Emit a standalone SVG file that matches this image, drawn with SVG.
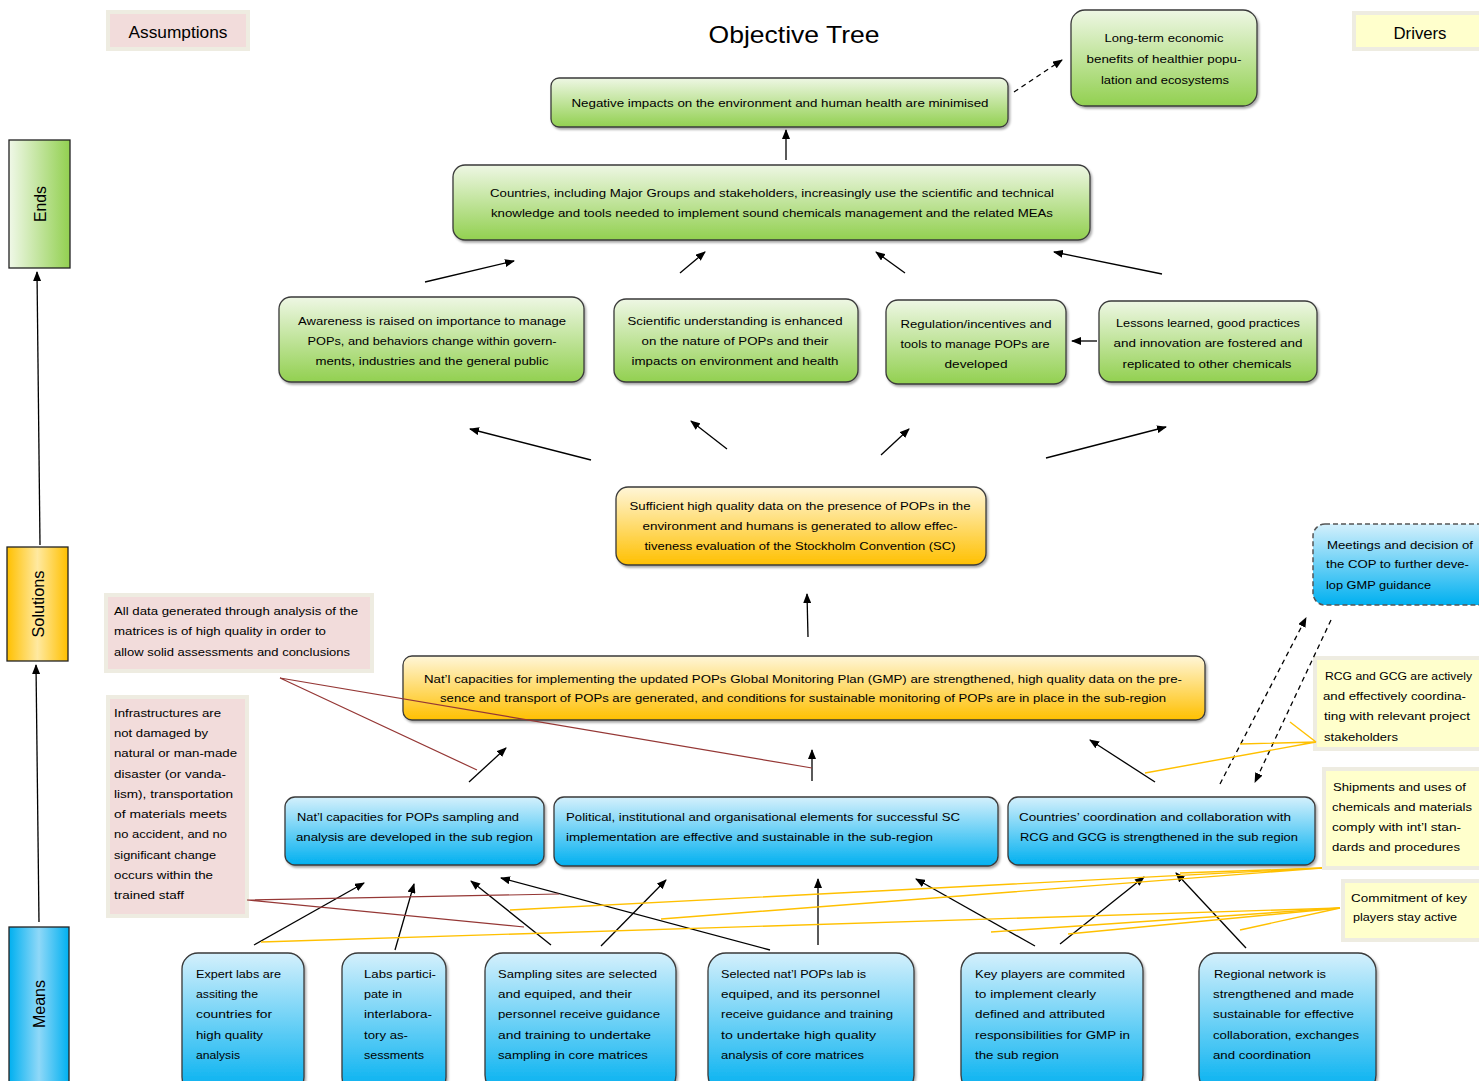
<svg xmlns="http://www.w3.org/2000/svg" width="1479" height="1081" viewBox="0 0 1479 1081">
<defs>
<linearGradient id="gGreen" x1="0" y1="0" x2="0" y2="1"><stop offset="0" stop-color="#eef7e4"/><stop offset="1" stop-color="#92d050"/></linearGradient>
<linearGradient id="gOrange" x1="0" y1="0" x2="0" y2="1"><stop offset="0" stop-color="#fff6d8"/><stop offset="1" stop-color="#ffc000"/></linearGradient>
<linearGradient id="gBlue" x1="0" y1="0" x2="0" y2="1"><stop offset="0" stop-color="#d4f0fc"/><stop offset="1" stop-color="#00b0f0"/></linearGradient>
<linearGradient id="hGreen" x1="0" y1="0" x2="1" y2="0"><stop offset="0" stop-color="#f0f8e8"/><stop offset="1" stop-color="#92d050"/></linearGradient>
<linearGradient id="hOrange" x1="0" y1="0" x2="1" y2="0"><stop offset="0" stop-color="#ffc000"/><stop offset="0.5" stop-color="#ffe9a0"/><stop offset="1" stop-color="#ffc000"/></linearGradient>
<linearGradient id="hBlue" x1="0" y1="0" x2="1" y2="0"><stop offset="0" stop-color="#00b0f0"/><stop offset="0.5" stop-color="#8fd8f8"/><stop offset="1" stop-color="#00b0f0"/></linearGradient>
<filter id="sh" x="-5%" y="-10%" width="110%" height="130%"><feDropShadow dx="1.5" dy="2" stdDeviation="1.2" flood-color="#000" flood-opacity="0.35"/></filter>
<marker id="ah" markerWidth="10" markerHeight="8" refX="9" refY="4" orient="auto" markerUnits="userSpaceOnUse"><path d="M0,0 L10,4 L0,8 Z" fill="#000"/></marker>
<style>
.t{font-family:"Liberation Sans",Arial,sans-serif;font-size:11.5px;fill:#000}
.c{text-anchor:middle}
.box{stroke:#3a3a3a;stroke-width:1.3;filter:url(#sh)}
.green{fill:url(#gGreen)}
.orange{fill:url(#gOrange)}
.blue{fill:url(#gBlue)}
.ao{fill:#eeece1}
.ai{fill:#f2dcdb}
.di{fill:#ffffcc}
.arr{stroke:#000;stroke-width:1.3;fill:none;marker-end:url(#ah)}
.dash{stroke-dasharray:5,4}
.red{stroke:#953735;stroke-width:1.2;fill:none}
.yel{stroke:#ffc000;stroke-width:1.4;fill:none}
</style>
</defs>
<rect width="1479" height="1081" fill="#fff"/>

<text class="t c" x="794" y="43" style="font-size:24px" textLength="171" lengthAdjust="spacingAndGlyphs">Objective Tree</text>

<g id="legend-assumptions"><rect class="ao" x="106" y="10" width="144" height="41"/><rect class="ai" x="110" y="14" width="136" height="33"/><text class="t c" x="178" y="38" style="font-size:16px" textLength="99" lengthAdjust="spacingAndGlyphs">Assumptions</text></g>
<g id="legend-drivers"><rect class="ao" x="1352" y="11" width="130" height="40"/><rect class="di" x="1356" y="15" width="126" height="32"/><text class="t c" x="1420" y="39" style="font-size:16px" textLength="53" lengthAdjust="spacingAndGlyphs">Drivers</text></g>

<g id="level-ends"><rect x="9" y="140" width="61" height="128" fill="url(#hGreen)" stroke="#222" stroke-width="1.3"/><text class="t c" transform="translate(46,204) rotate(-90)" style="font-size:16px" textLength="36" lengthAdjust="spacingAndGlyphs">Ends</text></g>
<g id="level-solutions"><rect x="7" y="547" width="61" height="114" fill="url(#hOrange)" stroke="#222" stroke-width="1.3"/><text class="t c" transform="translate(44,604) rotate(-90)" style="font-size:16px" textLength="67" lengthAdjust="spacingAndGlyphs">Solutions</text></g>
<g id="level-means"><rect x="9" y="927" width="60" height="160" fill="url(#hBlue)" stroke="#222" stroke-width="1.3"/><text class="t c" transform="translate(45,1004) rotate(-90)" style="font-size:16px" textLength="48" lengthAdjust="spacingAndGlyphs">Means</text></g>

<g id="n-negative"><rect class="box green" x="551" y="78" width="457" height="49" rx="8"/><text class="t c" x="780" y="107" textLength="417" lengthAdjust="spacingAndGlyphs">Negative impacts on the environment and human health are minimised</text></g>
<g id="n-longterm"><rect class="box green" x="1071" y="10" width="186" height="96" rx="14"/><text class="t c" x="1164" y="42" textLength="119" lengthAdjust="spacingAndGlyphs">Long-term economic</text><text class="t c" x="1164" y="63" textLength="155" lengthAdjust="spacingAndGlyphs">benefits of healthier popu-</text><text class="t c" x="1165" y="84" textLength="128" lengthAdjust="spacingAndGlyphs">lation and ecosystems</text></g>
<g id="n-countries"><rect class="box green" x="453" y="165" width="637" height="75" rx="12"/><text class="t c" x="772" y="197" textLength="564" lengthAdjust="spacingAndGlyphs">Countries, including Major Groups and stakeholders, increasingly use the scientific and technical</text><text class="t c" x="772" y="217" textLength="562" lengthAdjust="spacingAndGlyphs">knowledge and tools needed to implement sound chemicals management and the related MEAs</text></g>
<g id="n-awareness"><rect class="box green" x="279" y="297" width="305" height="85" rx="12"/><text class="t c" x="432" y="325" textLength="268" lengthAdjust="spacingAndGlyphs">Awareness is raised on importance to manage</text><text class="t c" x="432" y="345" textLength="249" lengthAdjust="spacingAndGlyphs">POPs, and behaviors change within govern-</text><text class="t c" x="432" y="365" textLength="233" lengthAdjust="spacingAndGlyphs">ments, industries and the general public</text></g>
<g id="n-scientific"><rect class="box green" x="614" y="299" width="244" height="83" rx="12"/><text class="t c" x="735" y="325" textLength="215" lengthAdjust="spacingAndGlyphs">Scientific understanding is enhanced</text><text class="t c" x="735" y="345" textLength="187" lengthAdjust="spacingAndGlyphs">on the nature of POPs and their</text><text class="t c" x="735" y="365" textLength="207" lengthAdjust="spacingAndGlyphs">impacts on environment and health</text></g>
<g id="n-regulation"><rect class="box green" x="886" y="300" width="180" height="84" rx="12"/><text class="t c" x="976" y="328" textLength="151" lengthAdjust="spacingAndGlyphs">Regulation/incentives and</text><text class="t c" x="975" y="348" textLength="149" lengthAdjust="spacingAndGlyphs">tools to manage POPs are</text><text class="t c" x="976" y="368" textLength="63" lengthAdjust="spacingAndGlyphs">developed</text></g>
<g id="n-lessons"><rect class="box green" x="1099" y="301" width="218" height="81" rx="12"/><text class="t c" x="1208" y="327" textLength="184" lengthAdjust="spacingAndGlyphs">Lessons learned, good practices</text><text class="t c" x="1208" y="347" textLength="189" lengthAdjust="spacingAndGlyphs">and innovation are fostered and</text><text class="t c" x="1207" y="368" textLength="169" lengthAdjust="spacingAndGlyphs">replicated to other chemicals</text></g>

<g id="n-sufficient"><rect class="box orange" x="616" y="487" width="370" height="78" rx="12"/><text class="t c" x="800" y="510" textLength="341" lengthAdjust="spacingAndGlyphs">Sufficient high quality data on the presence of POPs in the</text><text class="t c" x="800" y="530" textLength="315" lengthAdjust="spacingAndGlyphs">environment and humans is generated  to allow effec-</text><text class="t c" x="800" y="550" textLength="311" lengthAdjust="spacingAndGlyphs">tiveness evaluation of the Stockholm Convention (SC)</text></g>
<g id="n-gmp"><rect class="box orange" x="403" y="656" width="802" height="64" rx="9"/><text class="t c" x="803" y="683" textLength="758" lengthAdjust="spacingAndGlyphs">Nat’l capacities for implementing the updated POPs Global Monitoring Plan (GMP) are strengthened, high quality data on the pre-</text><text class="t c" x="803" y="702" textLength="726" lengthAdjust="spacingAndGlyphs">sence and transport of POPs are generated, and conditions for sustainable monitoring of POPs are in place in the sub-region</text></g>

<g id="n-meetings"><rect x="1313" y="524" width="180" height="81" rx="12" fill="url(#gBlue)" stroke="#555" stroke-width="1.5" stroke-dasharray="5,3"/><text class="t" x="1327" y="549" textLength="146" lengthAdjust="spacingAndGlyphs">Meetings and decision of</text><text class="t" x="1326" y="568" textLength="143" lengthAdjust="spacingAndGlyphs">the COP to further deve-</text><text class="t" x="1326" y="589" textLength="105" lengthAdjust="spacingAndGlyphs">lop GMP guidance</text></g>

<g id="n-natcap"><rect class="box blue" x="285" y="797" width="259" height="68" rx="10"/><text class="t" x="297" y="821" textLength="222" lengthAdjust="spacingAndGlyphs">Nat’l capacities for POPs sampling and</text><text class="t" x="296" y="841" textLength="237" lengthAdjust="spacingAndGlyphs">analysis are developed in the sub region</text></g>
<g id="n-political"><rect class="box blue" x="554" y="797" width="444" height="69" rx="10"/><text class="t" x="566" y="821" textLength="394" lengthAdjust="spacingAndGlyphs">Political, institutional and organisational elements for successful SC</text><text class="t" x="566" y="841" textLength="367" lengthAdjust="spacingAndGlyphs">implementation are effective and sustainable in the sub-region</text></g>
<g id="n-coord"><rect class="box blue" x="1008" y="797" width="307" height="68" rx="10"/><text class="t" x="1019" y="821" textLength="272" lengthAdjust="spacingAndGlyphs">Countries’ coordination and collaboration with</text><text class="t" x="1020" y="841" textLength="278" lengthAdjust="spacingAndGlyphs">RCG and GCG  is strengthened in the sub region</text></g>

<g id="n-expert"><rect class="box blue" x="182" y="953" width="122" height="140" rx="16"/><text class="t" x="196" y="978" textLength="85" lengthAdjust="spacingAndGlyphs">Expert labs are</text><text class="t" x="196" y="998" textLength="62" lengthAdjust="spacingAndGlyphs">assiting the</text><text class="t" x="196" y="1018" textLength="76" lengthAdjust="spacingAndGlyphs">countries for</text><text class="t" x="196" y="1039" textLength="67" lengthAdjust="spacingAndGlyphs">high quality</text><text class="t" x="196" y="1059" textLength="44" lengthAdjust="spacingAndGlyphs">analysis</text></g>
<g id="n-labs"><rect class="box blue" x="342" y="953" width="104" height="140" rx="16"/><text class="t" x="364" y="978" textLength="72" lengthAdjust="spacingAndGlyphs">Labs partici-</text><text class="t" x="364" y="998" textLength="38" lengthAdjust="spacingAndGlyphs">pate in</text><text class="t" x="364" y="1018" textLength="68" lengthAdjust="spacingAndGlyphs">interlabora-</text><text class="t" x="364" y="1039" textLength="44" lengthAdjust="spacingAndGlyphs">tory as-</text><text class="t" x="364" y="1059" textLength="60" lengthAdjust="spacingAndGlyphs">sessments</text></g>
<g id="n-sampling"><rect class="box blue" x="485" y="953" width="191" height="140" rx="18"/><text class="t" x="498" y="978" textLength="159" lengthAdjust="spacingAndGlyphs">Sampling sites are selected</text><text class="t" x="498" y="998" textLength="134" lengthAdjust="spacingAndGlyphs">and equiped, and their</text><text class="t" x="498" y="1018" textLength="162" lengthAdjust="spacingAndGlyphs">personnel receive guidance</text><text class="t" x="498" y="1039" textLength="153" lengthAdjust="spacingAndGlyphs">and training to undertake</text><text class="t" x="498" y="1059" textLength="150" lengthAdjust="spacingAndGlyphs">sampling in core matrices</text></g>
<g id="n-selected"><rect class="box blue" x="708" y="953" width="206" height="140" rx="18"/><text class="t" x="721" y="978" textLength="145" lengthAdjust="spacingAndGlyphs">Selected nat’l POPs lab is</text><text class="t" x="721" y="998" textLength="159" lengthAdjust="spacingAndGlyphs">equiped, and its personnel</text><text class="t" x="721" y="1018" textLength="172" lengthAdjust="spacingAndGlyphs">receive guidance and training</text><text class="t" x="721" y="1039" textLength="155" lengthAdjust="spacingAndGlyphs">to undertake high quality</text><text class="t" x="721" y="1059" textLength="143" lengthAdjust="spacingAndGlyphs">analysis of core matrices</text></g>
<g id="n-keyplayers"><rect class="box blue" x="961" y="953" width="182" height="140" rx="18"/><text class="t" x="975" y="978" textLength="150" lengthAdjust="spacingAndGlyphs">Key players are commited</text><text class="t" x="975" y="998" textLength="121" lengthAdjust="spacingAndGlyphs">to implement clearly</text><text class="t" x="975" y="1018" textLength="130" lengthAdjust="spacingAndGlyphs">defined and attributed</text><text class="t" x="975" y="1039" textLength="155" lengthAdjust="spacingAndGlyphs">responsibilities for GMP  in</text><text class="t" x="975" y="1059" textLength="84" lengthAdjust="spacingAndGlyphs">the sub region</text></g>
<g id="n-regional"><rect class="box blue" x="1199" y="953" width="177" height="140" rx="18"/><text class="t" x="1214" y="978" textLength="112" lengthAdjust="spacingAndGlyphs">Regional network is</text><text class="t" x="1213" y="998" textLength="141" lengthAdjust="spacingAndGlyphs">strengthened and made</text><text class="t" x="1213" y="1018" textLength="141" lengthAdjust="spacingAndGlyphs">sustainable for effective</text><text class="t" x="1213" y="1039" textLength="146" lengthAdjust="spacingAndGlyphs">collaboration, exchanges</text><text class="t" x="1213" y="1059" textLength="98" lengthAdjust="spacingAndGlyphs">and coordination</text></g>

<g id="a-alldata"><rect class="ao" x="104" y="593" width="270" height="80"/><rect class="ai" x="108" y="597" width="262" height="72"/><text class="t" x="114" y="615" textLength="244" lengthAdjust="spacingAndGlyphs">All data generated through analysis of the</text><text class="t" x="114" y="635" textLength="212" lengthAdjust="spacingAndGlyphs">matrices is of high quality in order to</text><text class="t" x="114" y="656" textLength="236" lengthAdjust="spacingAndGlyphs">allow solid assessments and conclusions</text></g>
<g id="a-infra"><rect class="ao" x="106" y="695" width="143" height="223"/><rect class="ai" x="110" y="699" width="135" height="215"/><text class="t" x="114" y="717" textLength="107" lengthAdjust="spacingAndGlyphs">Infrastructures are</text><text class="t" x="114" y="737" textLength="94" lengthAdjust="spacingAndGlyphs">not damaged by</text><text class="t" x="114" y="757" textLength="123" lengthAdjust="spacingAndGlyphs">natural or man-made</text><text class="t" x="114" y="778" textLength="112" lengthAdjust="spacingAndGlyphs">disaster (or vanda-</text><text class="t" x="114" y="798" textLength="119" lengthAdjust="spacingAndGlyphs">lism), transportation</text><text class="t" x="114" y="818" textLength="113" lengthAdjust="spacingAndGlyphs">of materials meets</text><text class="t" x="114" y="838" textLength="113" lengthAdjust="spacingAndGlyphs">no accident, and no</text><text class="t" x="114" y="859" textLength="102" lengthAdjust="spacingAndGlyphs">significant change</text><text class="t" x="114" y="879" textLength="99" lengthAdjust="spacingAndGlyphs">occurs within the</text><text class="t" x="114" y="899" textLength="70" lengthAdjust="spacingAndGlyphs">trained staff</text></g>

<g id="d-rcg"><rect class="ao" x="1313" y="656" width="170" height="95"/><rect class="di" x="1317" y="660" width="166" height="87"/><text class="t" x="1325" y="680" textLength="147" lengthAdjust="spacingAndGlyphs">RCG and GCG are actively</text><text class="t" x="1323" y="700" textLength="143" lengthAdjust="spacingAndGlyphs">and effectively coordina-</text><text class="t" x="1324" y="720" textLength="146" lengthAdjust="spacingAndGlyphs">ting with relevant project</text><text class="t" x="1324" y="741" textLength="74" lengthAdjust="spacingAndGlyphs">stakeholders</text></g>
<g id="d-shipments"><rect class="ao" x="1322" y="767" width="161" height="103"/><rect class="di" x="1326" y="771" width="157" height="95"/><text class="t" x="1333" y="791" textLength="133" lengthAdjust="spacingAndGlyphs">Shipments and uses of</text><text class="t" x="1332" y="811" textLength="140" lengthAdjust="spacingAndGlyphs">chemicals and materials</text><text class="t" x="1332" y="831" textLength="129" lengthAdjust="spacingAndGlyphs">comply with int’l stan-</text><text class="t" x="1332" y="851" textLength="128" lengthAdjust="spacingAndGlyphs">dards and procedures</text></g>
<g id="d-commit"><rect class="ao" x="1341" y="879" width="142" height="63"/><rect class="di" x="1345" y="883" width="138" height="55"/><text class="t" x="1351" y="902" textLength="116" lengthAdjust="spacingAndGlyphs">Commitment of key</text><text class="t" x="1353" y="921" textLength="104" lengthAdjust="spacingAndGlyphs">players stay active</text></g>

<g id="connectors">
<line class="arr" x1="40" y1="545" x2="37" y2="272"/>
<line class="arr" x1="39" y1="922" x2="36" y2="665"/>
<line class="arr" x1="786" y1="160" x2="786" y2="130"/>
<line class="arr dash" x1="1014" y1="92" x2="1062" y2="60"/>
<line class="arr" x1="425" y1="282" x2="514" y2="261"/>
<line class="arr" x1="680" y1="273" x2="705" y2="252"/>
<line class="arr" x1="905" y1="273" x2="876" y2="252"/>
<line class="arr" x1="1162" y1="274" x2="1054" y2="252"/>
<line class="arr" x1="1097" y1="341" x2="1072" y2="341"/>
<line class="arr" x1="591" y1="460" x2="470" y2="429"/>
<line class="arr" x1="727" y1="449" x2="691" y2="421"/>
<line class="arr" x1="881" y1="455" x2="909" y2="429"/>
<line class="arr" x1="1046" y1="458" x2="1166" y2="427"/>
<line class="arr" x1="808" y1="637" x2="807" y2="594"/>
<line class="arr" x1="469" y1="782" x2="506" y2="748"/>
<line class="arr" x1="812" y1="781" x2="812" y2="750"/>
<line class="arr" x1="1155" y1="782" x2="1090" y2="740"/>
<line class="arr dash" x1="1220" y1="784" x2="1306" y2="618"/>
<line class="arr dash" x1="1331" y1="620" x2="1255" y2="782"/>
<line class="arr" x1="254" y1="945" x2="364" y2="883"/>
<line class="arr" x1="395" y1="950" x2="414" y2="884"/>
<line class="arr" x1="551" y1="945" x2="471" y2="881"/>
<line class="arr" x1="601" y1="946" x2="666" y2="880"/>
<line class="arr" x1="770" y1="950" x2="501" y2="878"/>
<line class="arr" x1="818" y1="945" x2="818" y2="879"/>
<line class="arr" x1="1035" y1="946" x2="916" y2="879"/>
<line class="arr" x1="1060" y1="944" x2="1144" y2="877"/>
<line class="arr" x1="1246" y1="948" x2="1176" y2="873"/>
<polyline class="red" points="477,770 280,678 812,768"/>
<polyline class="red" points="559,894 247,900 524,927"/>
<polyline class="yel" points="1145,773 1316,742 1240,744"/>
<line class="yel" x1="1290" y1="722" x2="1316" y2="742"/>
<polyline class="yel" points="510,910 1322,868 661,919"/>
<line class="yel" x1="1180" y1="873" x2="1322" y2="868"/>
<line class="yel" x1="261" y1="942" x2="1340" y2="908"/>
<line class="yel" x1="991" y1="932" x2="1340" y2="908"/>
<line class="yel" x1="1068" y1="934" x2="1340" y2="908"/>
<line class="yel" x1="1240" y1="930" x2="1340" y2="908"/>
</g>
</svg>
